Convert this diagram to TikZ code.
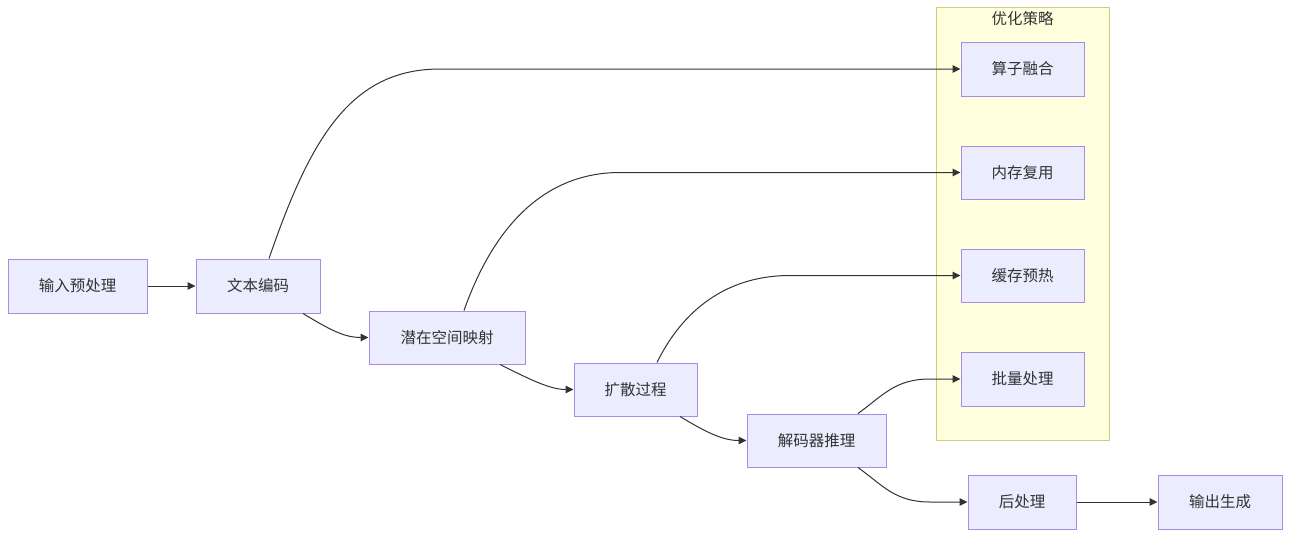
\documentclass[tikz,border=0pt]{standalone}
\usepackage{fontspec}
\newfontfamily\cjk{Noto Sans CJK SC}
\usetikzlibrary{arrows.meta,calc}
\definecolor{nodefill}{HTML}{ECECFF}
\definecolor{nodeline}{HTML}{A88BE3}
\definecolor{clfill}{HTML}{FFFFDE}
\definecolor{clline}{HTML}{CCCC80}
\definecolor{ink}{HTML}{333333}
\tikzset{
  box/.style={draw=nodeline, fill=nodefill, line width=1pt, minimum height=54pt, inner sep=0pt, text=ink, font=\cjk\fontsize{15.5}{18}\selectfont},
  link/.style={draw=ink, line width=1pt, -{Triangle[length=8pt,width=7.5pt]}},
}
\begin{document}
\begin{tikzpicture}[x=1pt,y=-1pt]
\useasboundingbox (0,0) rectangle (1298,541);
% cluster
\node[draw=clline, fill=clfill, line width=1pt, minimum width=173pt, minimum height=433pt, inner sep=0pt] (cl) at (1022.5,223.5) {};
\node[text=ink, font=\cjk\fontsize{15.5}{18}\selectfont, anchor=north] (cltitle) at (1022.5,8) {优化策略};
% nodes
\node[box, minimum width=139pt] (a) at (77.5,286) {输入预处理};
\node[box, minimum width=124pt] (b) at (258,286) {文本编码};
\node[box, minimum width=156pt, minimum height=53pt] (c) at (447,337.5) {潜在空间映射};
\node[box, minimum width=123pt, minimum height=53pt] (d) at (635.5,389.5) {扩散过程};
\node[box, minimum width=139pt, minimum height=53pt] (e) at (816.5,440.5) {解码器推理};
\node[box, minimum width=108pt] (f) at (1022,502) {后处理};
\node[box, minimum width=124pt] (g) at (1220,502) {输出生成};
\node[box, minimum width=123pt] (o1) at (1022.5,69) {算子融合};
\node[box, minimum width=123pt, minimum height=53pt] (o2) at (1022.5,172.5) {内存复用};
\node[box, minimum width=123pt, minimum height=53pt] (o3) at (1022.5,275.5) {缓存预热};
\node[box, minimum width=123pt] (o4) at (1022.5,379) {批量处理};
% edges
\draw[link] (a) -- (b);
\draw[link] (f) -- (g);
\draw[link] ([xshift=11pt]b.north) .. controls +(41,-119) and (350,69) .. (440,69) -- (o1.west);
\draw[link] ([xshift=17pt]c.north) .. controls +(30,-85) and (545,172.5) .. (620,172.5) -- (o2.west);
\draw[link] ([xshift=21.5pt]d.north) .. controls +(22,-45) and (720,275.5) .. (790,275.5) -- (o3.west);
\draw[link] ([xshift=41.5pt]e.north) .. controls +(25,-18) and (895,379) .. (930,379) -- (o4.west);
\draw[link] ([xshift=41.5pt]e.south) .. controls +(25,18) and (895,502) .. (930,502) -- (f.west);
\draw[link] ([xshift=45pt]b.south) .. controls +(28,17) and (345,337.5) .. (c.west);
\draw[link] ([xshift=53pt]c.south) .. controls +(30,15) and (550,389.5) .. (d.west);
\draw[link] ([xshift=44.5pt]d.south) .. controls +(25,15) and (722,440.5) .. (e.west);
\end{tikzpicture}
\end{document}
